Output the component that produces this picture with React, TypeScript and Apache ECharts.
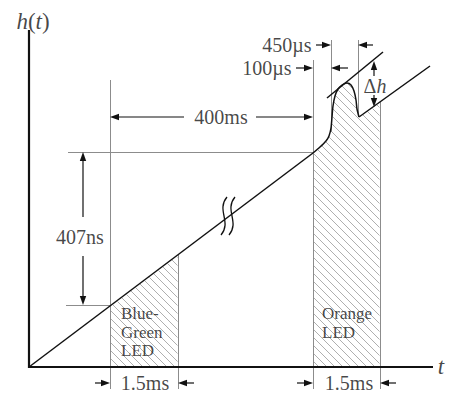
import React, { useEffect, useRef } from "react";
import * as echarts from "echarts";

// ---- Diagram data (plot units: x to the right, y downward) ----
const axisVertical = [[29, 30], [29, 368]];
const axisTime = [[28, 367], [433, 367]];
const rampBefore = [[29, 367], [313, 153]];
const pulseCurve = [
  [313, 153], [320, 147], [326, 141], [329, 136], [331, 128], [332, 117],
  [333, 106], [335, 96], [338, 89], [342, 85], [347, 83], [351, 85],
  [354, 91], [356, 100], [357, 109], [359, 117],
];
const rampAfter = [[359, 117], [430, 66]];
const peakTangent = [[327, 98], [383, 52]];
const baseline = 367;

const blueGreenTop = [[110, 306], [178, 255]];
const orangeTop = [...pulseCurve, [380, 102]];
const hatchRegions = [blueGreenTop, orangeTop];

const guideLines = [
  [[110, 80], [110, 389]],
  [[178, 255], [178, 389]],
  [[313, 60], [313, 389]],
  [[331, 40], [331, 132]],
  [[358, 40], [358, 114]],
  [[380, 102], [380, 389]],
  [[68, 152], [313, 152]],
  [[66, 305], [110, 305]],
];

// arrows: [fromX, fromY, tipX, tipY]
const arrows = [
  [184, 117, 110, 117],
  [256, 117, 313, 117],
  [83, 217, 83, 152],
  [83, 256, 83, 305],
  [316, 45, 331, 45],
  [373, 45, 358, 45],
  [296, 68, 313, 68],
  [348, 68, 331, 68],
  [374, 76, 374, 61],
  [374, 95, 374, 107],
  [95, 383, 110, 383],
  [194, 383, 178, 383],
  [297, 383, 313, 383],
  [396, 383, 380, 383],
];

const breakMark = [[228, 216]];

const dimLabels = ["400ms", "407ns", "450µs", "100µs", "1.5ms", "1.5ms"];
const dimLabelPos = [[221, 117], [80, 237], [287, 45], [267, 68], [145, 383], [349, 383]];
const ledLabels = ["Blue-", "Green", "LED", "Orange", "LED"];
const ledLabelPos = [[121, 313], [121, 332], [121, 350], [322, 313], [322, 332]];
const axisLabels = ["{i|h}({i|t})", "{i|t}", "Δ{i|h}"];
const axisLabelPos = [[33, 21], [441, 366], [375, 86]];

const SERIF = "'Liberation Serif', 'Times New Roman', 'DejaVu Serif', serif";
const INK = "#161616";
const GRAY = "#8c8c8c";

export default function App() {
  const ref = useRef<HTMLDivElement>(null);

  useEffect(() => {
    if (!ref.current) return;
    const chart = echarts.init(ref.current, undefined, { renderer: "svg" });

    const textItem = (text: string, pos: number[], size: number, align: string) => ({
      value: pos,
      label: {
        show: true,
        position: "inside",
        formatter: text,
        color: INK,
        fontFamily: SERIF,
        fontSize: size,
        align,
        verticalAlign: "middle",
        rich: {
          i: { fontStyle: "italic", fontFamily: SERIF, fontSize: size, color: INK },
        },
      },
    });

    const option: any = {
      animation: false,
      backgroundColor: "#ffffff",
      grid: { left: 0, right: 0, top: 0, bottom: 0 },
      xAxis: { type: "value", min: 0, max: 449, show: false },
      yAxis: { type: "value", min: 0, max: 394, inverse: true, show: false },
      series: [
        {
          type: "custom",
          z: 1,
          silent: true,
          clip: false,
          data: hatchRegions.map((_, i) => [i, 0]),
          renderItem: (params: any, api: any) => {
            const top = hatchRegions[params.dataIndex].map((p) => api.coord(p));
            const base = api.coord([0, baseline])[1];
            const x0 = top[0][0];
            const x1 = top[top.length - 1][0];
            const topAt = (x: number) => {
              for (let k = 0; k < top.length - 1; k++) {
                const a = top[k], b = top[k + 1];
                if (x >= a[0] && x <= b[0]) {
                  const t = b[0] === a[0] ? 0 : (x - a[0]) / (b[0] - a[0]);
                  return a[1] + t * (b[1] - a[1]);
                }
              }
              return top[top.length - 1][1];
            };
            const step = 8;
            const minTop = Math.min(...top.map((p: number[]) => p[1]));
            const children: any[] = [];
            const mk = (s: number[]) => ({
              type: "line",
              shape: { x1: s[0], y1: s[1], x2: s[2], y2: s[3] },
              style: { stroke: "#9a9a9a", lineWidth: 0.8 },
            });
            const cStart = Math.floor((minTop - x1) / step) * step;
            for (let c = cStart; c <= base - x0; c += step) {
              let seg: number[] | null = null;
              for (let x = x0 + 0.5; x <= x1 - 0.5; x += 0.5) {
                const y = x + c;
                const inside = y >= topAt(x) + 0.5 && y <= base - 1;
                if (inside) {
                  if (!seg) seg = [x, y, x, y];
                  else { seg[2] = x; seg[3] = y; }
                } else if (seg) {
                  children.push(mk(seg));
                  seg = null;
                }
              }
              if (seg) children.push(mk(seg));
            }
            return { type: "group", children };
          },
        },
        {
          type: "lines",
          coordinateSystem: "cartesian2d",
          z: 2,
          silent: true,
          symbol: "none",
          lineStyle: { color: GRAY, width: 1, opacity: 1 },
          data: guideLines.map((c) => ({ coords: c })),
        },
        {
          type: "lines",
          coordinateSystem: "cartesian2d",
          z: 3,
          silent: true,
          symbol: "none",
          lineStyle: { color: "#111", width: 2.2, opacity: 1 },
          data: [{ coords: axisVertical }, { coords: axisTime }],
        },
        {
          type: "line",
          z: 4,
          silent: true,
          symbol: "none",
          lineStyle: { color: "#111", width: 1.5 },
          data: rampBefore,
        },
        {
          type: "line",
          z: 4,
          silent: true,
          symbol: "none",
          smooth: 0.25,
          lineStyle: { color: "#111", width: 1.5 },
          data: pulseCurve,
        },
        {
          type: "line",
          z: 4,
          silent: true,
          symbol: "none",
          lineStyle: { color: "#111", width: 1.5 },
          data: rampAfter,
        },
        {
          type: "line",
          z: 4,
          silent: true,
          symbol: "none",
          lineStyle: { color: "#111", width: 1.5 },
          data: peakTangent,
        },
        {
          type: "custom",
          z: 5,
          silent: true,
          clip: false,
          data: breakMark,
          renderItem: (params: any, api: any) => {
            const c = api.coord([api.value(0), api.value(1)]);
            const curve = (dx: number) => ({
              type: "bezierCurve",
              shape: {
                x1: c[0] + dx + 3, y1: c[1] - 19,
                cpx1: c[0] + dx - 8, cpy1: c[1] - 6,
                cpx2: c[0] + dx + 8, cpy2: c[1] + 6,
                x2: c[0] + dx - 3, y2: c[1] + 19,
              },
              style: { stroke: "#111", lineWidth: 1.3, fill: null },
            });
            return { type: "group", children: [curve(-4), curve(4)] };
          },
        },
        {
          type: "custom",
          z: 6,
          silent: true,
          clip: false,
          encode: { x: [0, 2], y: [1, 3] },
          data: arrows,
          renderItem: (params: any, api: any) => {
            const a = api.coord([api.value(0), api.value(1)]);
            const b = api.coord([api.value(2), api.value(3)]);
            const dx = b[0] - a[0], dy = b[1] - a[1];
            const len = Math.hypot(dx, dy) || 1;
            const ux = dx / len, uy = dy / len;
            const hl = 9, hw = 3.2;
            const bx = b[0] - ux * hl, by = b[1] - uy * hl;
            return {
              type: "group",
              children: [
                {
                  type: "line",
                  shape: { x1: a[0], y1: a[1], x2: bx, y2: by },
                  style: { stroke: "#111", lineWidth: 1.2 },
                },
                {
                  type: "polygon",
                  shape: {
                    points: [
                      [b[0], b[1]],
                      [bx - uy * hw, by + ux * hw],
                      [bx + uy * hw, by - ux * hw],
                    ],
                  },
                  style: { fill: "#111" },
                },
              ],
            };
          },
        },
        {
          type: "scatter",
          z: 7,
          silent: true,
          symbolSize: 0,
          itemStyle: { color: "transparent" },
          data: [
            ...dimLabels.map((t, i) => textItem(t, dimLabelPos[i], 20, "center")),
            ...ledLabels.map((t, i) => textItem(t, ledLabelPos[i], 17, "left")),
            ...axisLabels.map((t, i) => textItem(t, axisLabelPos[i], i === 2 ? 20 : 23, "center")),
          ],
        },
      ],
    };

    chart.setOption(option);
    return () => chart.dispose();
  }, []);

  return (
    <div
      ref={ref}
      style={{ position: "fixed", left: 0, top: 0, width: 449, height: 394, background: "#fff" }}
    />
  );
}
